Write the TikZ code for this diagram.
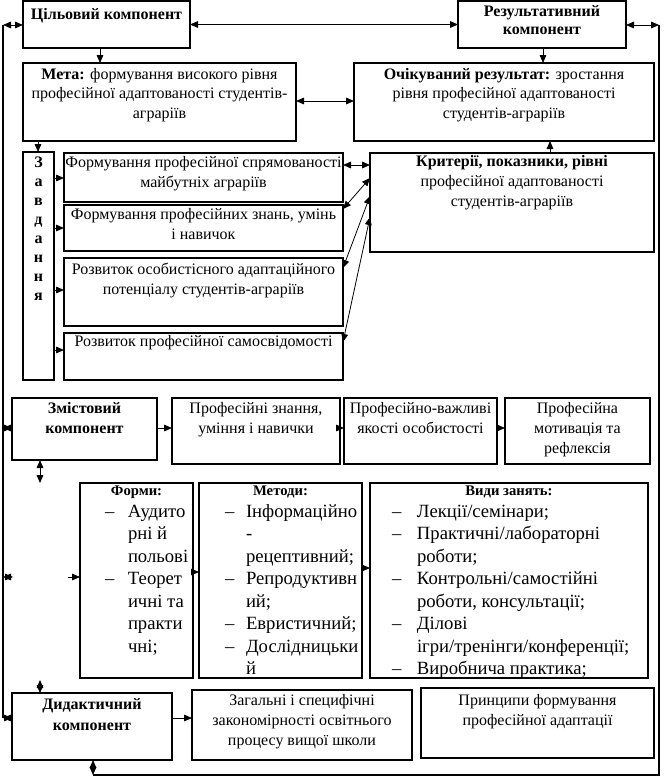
\documentclass[tikz,border=0pt]{standalone}
\usepackage{fontspec}
\setmainfont{Liberation Serif}
\usetikzlibrary{arrows.meta}
\newlength\pxu \setlength\pxu{0.75pt}
\newcommand\bxt[4]{\parbox[c][#2\pxu][t]{#1\pxu}{\vspace*{#3}\centering #4\par}}
\newcommand\itm[3]{\hspace*{#1\pxu}\makebox[#2\pxu][l]{–}\makebox[0pt][l]{#3}\\}
\newcommand\cnt[2]{\hspace*{#1\pxu}\makebox[0pt][l]{#2}\\}
\newcommand\normfnt{\fontsize{12}{15}\selectfont}
\newcommand\listfnt{\fontsize{14}{16.9}\selectfont}
\newcommand\titfnt{\fontsize{11}{14}\selectfont\bfseries}
\tikzset{
  bx/.style={draw, line width=0.8pt, inner sep=0pt, outer sep=0pt, anchor=north west},
  arr/.style={line width=0.6pt, -{Triangle[length=6pt,width=5pt]}},
  darr/.style={line width=0.6pt, {Triangle[length=6pt,width=5pt]}-{Triangle[length=6pt,width=5pt]}},
  ln/.style={line width=0.8pt}
}
\begin{document}
\begin{tikzpicture}[x=0.75pt,y=-0.75pt]
\useasboundingbox (0,0) rectangle (665,778);
% top row
\node[bx] (tsil) at (23,1) {\bxt{167}{47}{5.5pt}{\normfnt\bfseries Цільовий компонент}};
\node[bx] (rez) at (458,1) {\bxt{168}{47}{3.5pt}{\fontsize{12}{13.5}\selectfont\bfseries Результативний\\компонент}};
\node[bx] (meta) at (23,63) {\bxt{273}{78}{4pt}{\fontsize{12}{14.6}\selectfont\textbf{Мета:} формування високого рівня\\професійної адаптованості студентів-\\аграріїв}};
\node[bx] (ochik) at (354,63) {\bxt{300}{78}{4pt}{\fontsize{12}{14.6}\selectfont\textbf{Очікуваний результат:} зростання\\рівня професійної адаптованості\\студентів-аграріїв}};
% tasks
\node[bx] (zavd) at (23,152) {\bxt{31}{228}{3.5pt}{\fontsize{12}{14.3}\selectfont\bfseries З\\а\\в\\д\\а\\н\\н\\я}};
\node[bx] (t1) at (64,153) {\bxt{279}{49}{2.5pt}{\normfnt Формування професійної спрямованості\\майбутніх аграріїв}};
\node[bx] (t2) at (64,205) {\bxt{279}{46}{2.75pt}{\normfnt Формування професійних знань, умінь\\і навичок}};
\node[bx] (t3) at (64,258) {\bxt{279}{68}{4pt}{\normfnt Розвиток особистісного адаптаційного\\потенціалу студентів-аграріїв}};
\node[bx] (t4) at (64,333) {\bxt{279}{47}{2pt}{\normfnt Розвиток професійної самосвідомості}};
\node[bx] (krit) at (370,153) {\bxt{284}{99}{1.5pt}{\normfnt\textbf{Критерії, показники, рівні}\\професійної адаптованості\\студентів-аграріїв}};
% content row
\node[bx] (zmist) at (12,398) {\bxt{145}{62}{3.5pt}{\normfnt\bfseries Змістовий\\компонент}};
\node[bx] (pz) at (172,398) {\bxt{168}{66}{3.5pt}{\normfnt Професійні знання,\\уміння і навички}};
\node[bx] (pv) at (344,398) {\bxt{153}{66}{3.5pt}{\normfnt Професійно-важливі\\якості особистості}};
\node[bx] (pm) at (505,398) {\bxt{145}{66}{3.5pt}{\normfnt Професійна\\мотивація та\\рефлексія}};
% lists
\node[bx] (formy) at (80,483) {\parbox[c][195\pxu][t]{113\pxu}{\vspace*{2.5pt}\centering{\titfnt Форми:\par}\vspace{-1pt}
\raggedright\listfnt
\itm{25}{23}{Аудито}
\cnt{48}{рні й}
\cnt{48}{польові}
\itm{25}{23}{Теорет}
\cnt{48}{ичні та}
\cnt{48}{практи}
\cnt{48}{чні;}
\par}};
\node[bx] (metody) at (199,483) {\parbox[c][195\pxu][t]{163\pxu}{\vspace*{2.5pt}\centering{\titfnt Методи:\par}\vspace{-1pt}
\raggedright\listfnt
\itm{26}{21}{Інформаційно}
\cnt{47}{-}
\cnt{47}{рецептивний;}
\itm{26}{21}{Репродуктивн}
\cnt{47}{ий;}
\itm{26}{21}{Евристичний;}
\itm{26}{21}{Дослідницьки}
\cnt{47}{й}
\par}};
\node[bx] (vydy) at (370,483) {\parbox[c][195\pxu][t]{278\pxu}{\vspace*{2.5pt}\centering{\titfnt Види занять:\par}\vspace{-1pt}
\raggedright\listfnt
\itm{22}{25}{Лекції/семінари;}
\itm{22}{25}{Практичні/лабораторні}
\cnt{47}{роботи;}
\itm{22}{25}{Контрольні/самостійні}
\cnt{47}{роботи, консультації;}
\itm{22}{25}{Ділові}
\cnt{47}{ігри/тренінги/конференції;}
\itm{22}{25}{Виробнича практика;}
\par}};
% didactic row
\node[bx] (dyd) at (12,693) {\bxt{160}{67}{4pt}{\fontsize{12}{16}\selectfont\bfseries Дидактичний\\компонент}};
\node[bx] (zag) at (192,690) {\bxt{220}{70}{3.5pt}{\normfnt Загальні і специфічні\\закономірності освітнього\\процесу вищої школи}};
\node[bx] (pryn) at (421,688) {\bxt{233}{70}{5pt}{\normfnt Принципи формування\\професійної адаптації}};
% frame lines
\coordinate (L1) at (3,25);
\coordinate (L2) at (3,718);
\coordinate (R1) at (659,25);
\coordinate (R2) at (659,775);
\coordinate (B1) at (93,775);
\draw[ln] (L1) -- (L2);
\draw[ln] (R1) -- (R2) -- (B1);
\draw[darr] (L1) -- (tsil.west |- L1);
\draw[darr] (rez.east |- R1) -- (R1);
\draw[darr] (tsil.east) -- (rez.west);
\draw[arr] (tsil.south -| 100,0) -- (meta.north -| 100,0);
\draw[arr] (rez.south -| 543,0) -- (ochik.north -| 543,0);
\draw[darr] (meta.east |- 0,101) -- (ochik.west |- 0,101);
\draw[arr] (meta.south -| 38,0) -- (zavd.north -| 38,0);
\draw[arr] (krit.north -| 550,0) -- (ochik.south -| 550,0);
\draw[arr] (zavd.east |- 0,178) -- (t1.west |- 0,178);
\draw[arr] (zavd.east |- 0,228) -- (t2.west |- 0,228);
\draw[arr] (zavd.east |- 0,290) -- (t3.west |- 0,290);
\draw[arr] (zavd.east |- 0,350) -- (t4.west |- 0,350);
\draw[darr] (t1.east |- 0,165) -- (krit.west |- 0,165);
\draw[darr] (t2.east |- 0,209) -- (krit.west |- 0,178);
\draw[darr] (t3.east |- 0,268) -- (krit.west |- 0,196);
\draw[darr] (t4.east |- 0,342) -- (krit.west |- 0,217);
% content row arrows
\coordinate (Lz) at (3,428);
\draw[darr] (Lz) -- (zmist.west |- Lz);
\draw[arr] (zmist.east |- 0,428) -- (pz.west |- 0,428);
\draw[arr] (pz.east |- 0,428) -- (pv.west |- 0,428);
\draw[arr] (pv.east |- 0,428) -- (pm.west |- 0,428);
\coordinate (Z1) at (40,483);
\draw[darr] (zmist.south -| Z1) -- (Z1);
% list row arrows
\coordinate (Lf) at (3,577);
\coordinate (Lf2) at (13,577);
\draw[darr] (Lf) -- (Lf2);
\coordinate (F0) at (68,577);
\draw[arr] (F0) -- (formy.west |- F0);
\draw[arr] (formy.east |- 0,572) -- (metody.west |- 0,572);
\draw[arr] (metody.east |- 0,568) -- (vydy.west |- 0,568);
% didactic arrows
\coordinate (D0) at (40,680);
\draw[darr] (D0) -- (dyd.north -| D0);
\coordinate (Ld) at (3,718);
\draw[darr] (Ld) -- (dyd.west |- Ld);
\draw[arr] (dyd.east |- 0,718) -- (zag.west |- 0,718);
\draw[darr] (dyd.south -| B1) -- (B1);
\end{tikzpicture}
\end{document}
